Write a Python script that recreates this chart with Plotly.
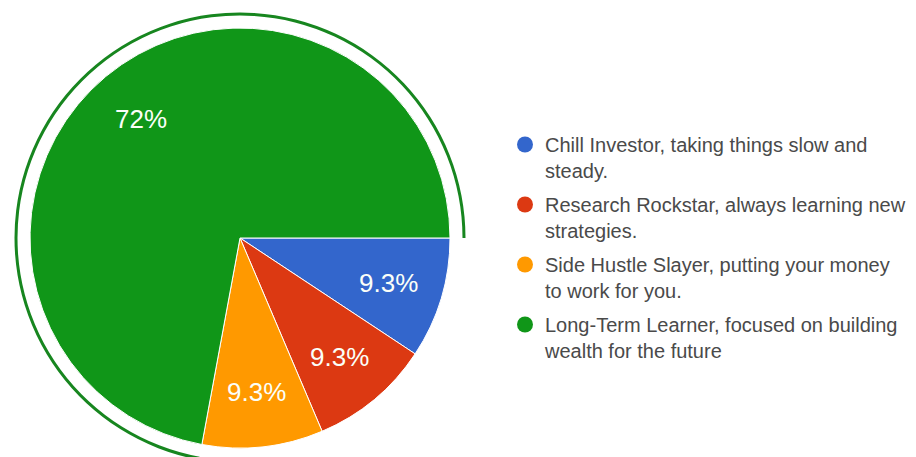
import math
import plotly.graph_objects as go

# Survey answers: investor personality
labels = [
    "Chill Investor, taking things slow and<br>steady.",
    "Research Rockstar, always learning new<br>strategies.",
    "Side Hustle Slayer, putting your money<br>to work for you.",
    "Long-Term Learner, focused on building<br>wealth for the future",
]
counts = [4, 4, 4, 31]
colors = ["#3366cc", "#dc3912", "#ff9900", "#109618"]
highlighted = 3  # slice drawn with the outline ring

W, H = 916, 470
CX, CY, R = 240, 238, 210      # pie centre / radius in pixels
RING_OUT, RING_IN = 225.5, 222.5


def px_domain(cx, cy, r):
    return dict(x=[(cx - r) / W, (cx + r) / W],
                y=[1 - (cy + r) / H, 1 - (cy - r) / H])


fig = go.Figure()

# main pie, starting at 3 o'clock and running clockwise
fig.add_trace(go.Pie(
    labels=labels, values=counts, sort=False, direction="clockwise",
    rotation=90, domain=px_domain(CX, CY, R),
    marker=dict(colors=colors, line=dict(color="#ffffff", width=1)),
    textinfo="none", showlegend=False, hoverinfo="label+percent",
))

# thin outline ring around the highlighted slice
fig.add_trace(go.Pie(
    labels=labels, values=counts, sort=False, direction="clockwise",
    rotation=90, domain=px_domain(CX, CY, RING_OUT), hole=RING_IN / RING_OUT,
    marker=dict(colors=["#17861f" if i == highlighted else "rgba(0,0,0,0)"
                        for i in range(len(counts))], line=dict(width=0)),
    textinfo="none", showlegend=False, hoverinfo="skip",
))

# legend entries with round markers
for i, (lab, col) in enumerate(zip(labels, colors)):
    fig.add_trace(go.Scatter(
        x=[None], y=[None], mode="markers", name=lab, legendgroup=f"g{i}",
        marker=dict(color=col, size=16, symbol="circle"),
    ))

# percentage labels placed along each slice's mid-angle
total = sum(counts)
cum = 0
for v in counts:
    mid = 2 * math.pi * (cum + v / 2) / total
    cum += v
    pct = 100 * v / total
    txt = f"{pct:.2g}%"
    r = 0.74 * R
    x = CX + r * math.cos(mid)
    y = CY + r * math.sin(mid)
    fig.add_annotation(
        x=x / W, y=1 - y / H, xref="paper", yref="paper", text=txt,
        xanchor="center", yanchor="middle", showarrow=False,
        font=dict(family="Liberation Sans, Arial", size=26, color="#fbfff8"),
    )

fig.update_layout(
    width=W, height=H, margin=dict(l=0, r=0, t=0, b=0),
    paper_bgcolor="#ffffff", plot_bgcolor="#ffffff",
    xaxis=dict(visible=False), yaxis=dict(visible=False),
    legend=dict(
        x=505 / W, y=1 - 125 / H, xanchor="left", yanchor="top",
        font=dict(family="Liberation Sans, Arial", size=20, color="#4a4a4a"),
        valign="top", tracegroupgap=5, bgcolor="rgba(0,0,0,0)",
    ),
    showlegend=True,
)

fig.write_html(
    "out.html",
    post_script="document.body.style.margin='0';document.body.style.overflow='hidden';"
                "document.documentElement.style.overflow='hidden';",
)
